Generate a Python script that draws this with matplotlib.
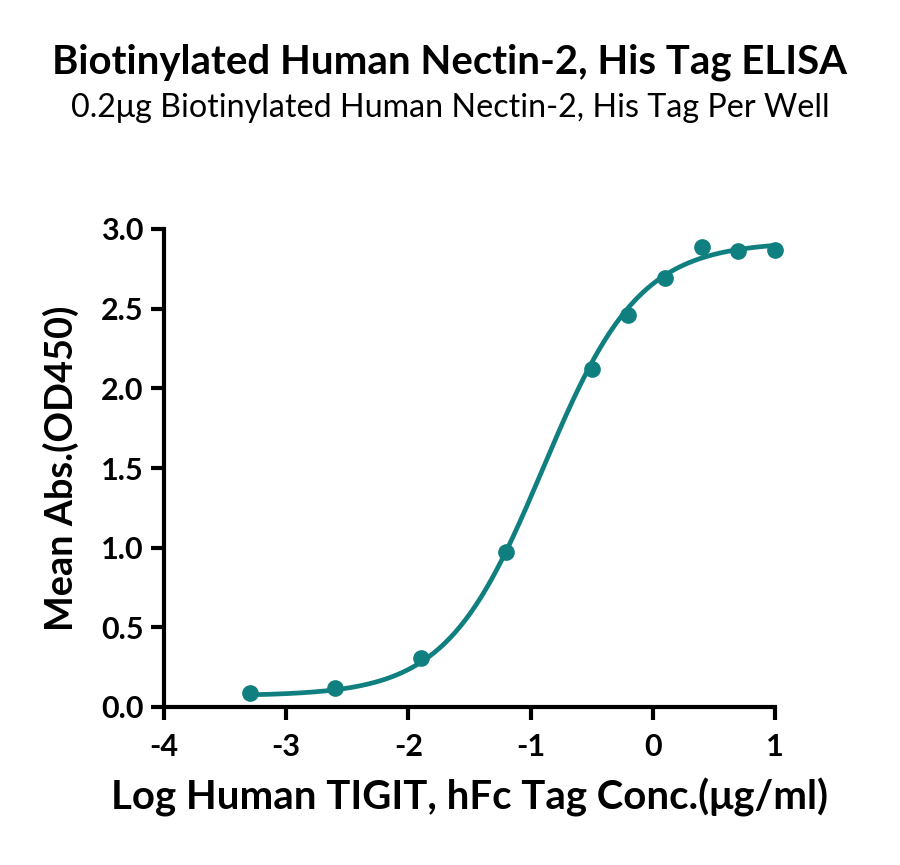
import numpy as np
import matplotlib
matplotlib.use('Agg')
import matplotlib.pyplot as plt

plt.rcParams['font.family'] = ['Lato', 'DejaVu Sans']

# measured points
log_conc = [-3.3, -2.6, -1.9, -1.2, -0.5, -0.2, 0.1, 0.4, 0.7, 1.0]
mean_abs = [0.085, 0.12, 0.31, 0.97, 2.12, 2.46, 2.69, 2.89, 2.86, 2.87]

# 4PL fit parameters (bottom, top, logEC50, hill)
fit_bottom = 0.07
fit_top = 2.92
fit_logec50 = -0.9
fit_hill = 1.1

x_ticks = [-4, -3, -2, -1, 0, 1]
y_ticks = [0.0, 0.5, 1.0, 1.5, 2.0, 2.5, 3.0]

title = 'Biotinylated Human Nectin-2, His Tag ELISA'
subtitle = '0.2\u03bcg Biotinylated Human Nectin-2, His Tag Per Well'
xlabel = 'Log Human TIGIT, hFc Tag Conc.(\u03bcg/ml)'
ylabel = 'Mean Abs.(OD450)'

teal = '#0f7f80'

fig = plt.figure(figsize=(9, 8.65), dpi=100)
ax = fig.add_axes([164/900, 1-707/865, (775-164)/900, (707-229)/865])

xs = np.linspace(min(log_conc), max(log_conc), 300)
curve = fit_bottom + (fit_top - fit_bottom) / (1 + 10 ** ((fit_logec50 - xs) * fit_hill))
ax.plot(xs, curve, color=teal, lw=3.4, clip_on=False, solid_capstyle='round')
ax.plot(log_conc, mean_abs, 'o', color=teal, ms=11, clip_on=False)

ax.set_xlim(-4, 1)
ax.set_ylim(0, 3)
ax.set_xticks(x_ticks)
ax.set_xticklabels([str(t) for t in x_ticks])
ax.set_yticks(y_ticks)
ax.set_yticklabels(['%.1f' % t for t in y_ticks])
for s in ['top', 'right']:
    ax.spines[s].set_visible(False)
for s in ['left', 'bottom']:
    ax.spines[s].set_linewidth(3.0)
ax.tick_params(direction='out', width=3.0, length=9.5, labelsize=22, pad=5)
for lab in ax.get_xticklabels() + ax.get_yticklabels():
    lab.set_fontweight('bold')
ax.tick_params(axis='x', pad=9)

ax.set_xlabel(xlabel, fontsize=24, fontweight='bold', labelpad=12)
ax.set_ylabel(ylabel, fontsize=24, fontweight='bold', labelpad=16)

t1 = fig.text(0.5, 1-62/865, title, ha='center', va='center', fontsize=24, fontweight='bold')
t2 = fig.text(0.5, 1-108/865, subtitle, ha='center', va='center', fontsize=19)

# fit text widths to reference
r = fig.canvas.get_renderer()
for t, w in [(t1, 794), (t2, 760), (ax.xaxis.label, 716), (ax.yaxis.label, 325)]:
    bb = t.get_window_extent(r)
    cur = max(bb.width, bb.height)
    t.set_fontsize(t.get_fontsize() * w / cur)

fig.savefig('out.png', dpi=100)
